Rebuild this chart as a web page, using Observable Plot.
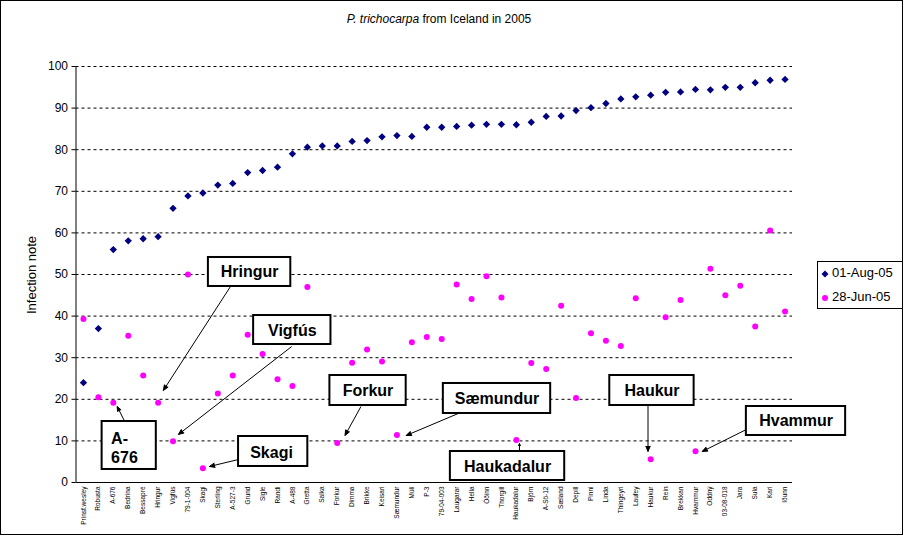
<!DOCTYPE html>
<html><head><meta charset="utf-8">
<script src="https://cdn.jsdelivr.net/npm/d3@7"></script>
<script src="https://cdn.jsdelivr.net/npm/@observablehq/plot@0.6"></script>
<style>
body{margin:0;background:#fff;font-family:Arial,"Liberation Sans",sans-serif;}
#wrap{position:relative;width:905px;height:537px;overflow:hidden;background:#fff;}
#frame{position:absolute;left:0;top:0;width:901px;height:533px;border:1px solid #000;pointer-events:none;}
#title{position:absolute;top:12px;left:0;width:878px;text-align:center;font-size:12px;color:#000;}
#ylabel{position:absolute;left:31px;top:275px;transform:translate(-50%,-50%) rotate(-90deg);font-size:13px;white-space:nowrap;color:#000;}
#legend{position:absolute;left:817px;top:261px;width:84px;height:46px;border:1px solid #000;background:#fff;font-size:13px;}
.item{position:absolute;left:3px;height:16px;line-height:16px;white-space:nowrap;}
.item svg{vertical-align:middle;margin-right:3px;}
#chart{position:absolute;left:0;top:0;}
</style></head>
<body>
<div id="wrap">
  <div id="chart"></div>
  <div id="title"><i>P. trichocarpa</i> from Iceland in 2005</div>
  <div id="ylabel">Infection note</div>
  <div id="legend"></div>
  <div id="frame"></div>
</div>
<script>
const categories = ["Prinsf.wesley","Robusta","A-676","Bedrina","Bessapré","Hringur","Vigfús","79-1-004","Skagi","Sterling","A-527-3","Grund","Sigle","Randi","A-488","Gretta","Salka","Forkur","Dimma","Brikke","Keisari","Sæmundur","Múli","P-3","79-04-003","Laugarar","Hella","Óðinn","Thorgill","Haukadalur","Björn","A-Sö-12","Sæland","Depill","Pinni","Linda","Thingeyri","Laufey","Haukur","Rein","Brekkan","Hvammur","Oddný","03-08-018","Jara","Sula","Kari","Iðunn"];
const aug01 = [24,37,56,58.1,58.6,59.1,65.9,68.9,69.6,71.5,71.9,74.5,75,75.8,79,80.6,80.9,80.9,82,82.2,83.1,83.4,83.2,85.4,85.4,85.6,85.9,86.1,86.1,86,86.6,88,88.1,89.4,90.1,91.1,92.2,92.7,93.1,93.8,93.9,94.5,94.4,95,95,96.1,96.7,96.9];
const jun28 = [39.3,20.5,19.2,35.3,25.7,19.2,9.9,50,3.4,21.4,25.7,35.5,30.9,24.8,23.2,47,37.3,9.5,28.8,32,29.1,11.4,33.7,35,34.5,47.6,44.1,49.6,44.5,10.2,28.7,27.3,42.5,20.3,35.9,34.1,32.8,44.3,5.6,39.7,43.9,7.5,51.4,45,47.3,37.5,60.6,41.1];
const seriesNames = ["01-Aug-05","28-Jun-05"];
const seriesColors = ["#000080","#ff00ff"];
const yTicks = [0,10,20,30,40,50,60,70,80,90,100];

// annotation callouts, in data units (category index, infection note)
const noteLabels = ["Hringur","Vigfús","A-\n676","Skagi","Forkur","Sæmundur","Haukadalur","Haukur","Hvammur"];
const noteBoxX1  = [9.37,12.40,2.25,11.39,17.51,25.11,25.58,36.26,45.41];
const noteBoxX2  = [14.89,17.58,5.88,16.03,22.62,32.30,33.24,41.91,52.06];
const noteBoxTop = [54.09,40.14,14.66,11.06,25.72,23.80,7.45,25.72,18.27];
const noteBoxBot = [47.12,33.17,3.13,3.85,18.51,16.59,0.48,18.51,11.30];
const noteTextX  = [12.13,14.99,2.85,13.60,20.06,28.70,29.41,39.09,48.74];
const noteTextY  = [50.72,36.54,8.53,7.21,22.12,20.19,3.85,22.12,14.78];
const arrowX1 = [10.85,14.95,3.73,11.39,19.59,26.11,30.21,38.82,45.41];
const arrowY1 = [47.12,32.69,14.90,5.53,18.27,16.59,7.45,18.51,12.74];
const arrowX2 = [6.35,7.36,3.26,9.44,18.52,22.62,30.21,38.82,42.45];
const arrowY2 = [22.12,11.54,18.27,3.85,11.30,11.30,9.38,7.45,7.45];

const augRows = aug01.map((v,i)=>({i:i+1, v}));
const junRows = jun28.map((v,i)=>({i:i+1, v}));
const notes = noteLabels.map((label,k)=>({label, bx1:noteBoxX1[k], bx2:noteBoxX2[k], bt:noteBoxTop[k], bb:noteBoxBot[k], tx:noteTextX[k], ty:noteTextY[k], ax1:arrowX1[k], ay1:arrowY1[k], ax2:arrowX2[k], ay2:arrowY2[k]}));

const chart = Plot.plot({
  width: 905, height: 537,
  marginLeft: 75.5, marginRight: 113, marginTop: 66, marginBottom: 55,
  x: {type: "linear", domain: [0.5, 48.5]},
  y: {domain: [0, 100]},
  style: {fontFamily: 'Arial, "Liberation Sans", sans-serif', background: "transparent", color: "#000", overflow: "visible"},
  marks: [
    Plot.ruleY(yTicks.filter(d => d > 0), {stroke: "#000", strokeDasharray: "3,3", strokeWidth: 1}),
    Plot.axisY({ticks: yTicks, tickSize: 4, tickPadding: 4, fontSize: 12, label: null}),
    Plot.axisX({ticks: d3.range(1, 49), tickFormat: i => categories[i - 1], tickRotate: -90, tickSize: 0, tickPadding: 4, fontSize: 6.5, label: null}),
    Plot.ruleX([0.5], {y1: 0, y2: 100, stroke: "#000"}),
    Plot.ruleY([0], {stroke: "#000"}),
    Plot.dot(augRows, {x: "i", y: "v", symbol: "diamond2", r: 3.3, fill: seriesColors[0], stroke: null}),
    Plot.dot(junRows, {x: "i", y: "v", r: 3, fill: seriesColors[1], stroke: null}),
    Plot.arrow(notes, {x1: "ax1", y1: "ay1", x2: "ax2", y2: "ay2", stroke: "#000", fill: "#000", strokeWidth: 1, headLength: 9, headAngle: 45, strokeLinecap: "butt"}),
    Plot.rect(notes, {x1: "bx1", x2: "bx2", y1: "bb", y2: "bt", fill: "#fff", stroke: "#000", strokeWidth: 2}),
    Plot.text(notes.filter(d => !d.label.includes("\n")), {x: "tx", y: "ty", text: "label", fontSize: 16, fontWeight: "bold", fill: "#000"}),
    Plot.text(notes.filter(d => d.label.includes("\n")), {x: "tx", y: "ty", text: "label", fontSize: 16, fontWeight: "bold", fill: "#000", textAnchor: "start", lineHeight: 1.2})
  ]
});
document.getElementById("chart").appendChild(chart);

// legend
const legend = document.getElementById("legend");
seriesNames.forEach((name, k) => {
  const div = document.createElement("div");
  div.className = "item";
  div.style.top = (k === 0 ? 3 : 27) + "px";
  const marker = k === 0
    ? `<svg width="8" height="8"><path d="M4,0.5L7.5,4L4,7.5L0.5,4Z" fill="${seriesColors[0]}"/></svg>`
    : `<svg width="8" height="8"><circle cx="4" cy="4" r="3" fill="${seriesColors[1]}"/></svg>`;
  div.innerHTML = marker + name;
  legend.appendChild(div);
});
</script>
</body></html>
